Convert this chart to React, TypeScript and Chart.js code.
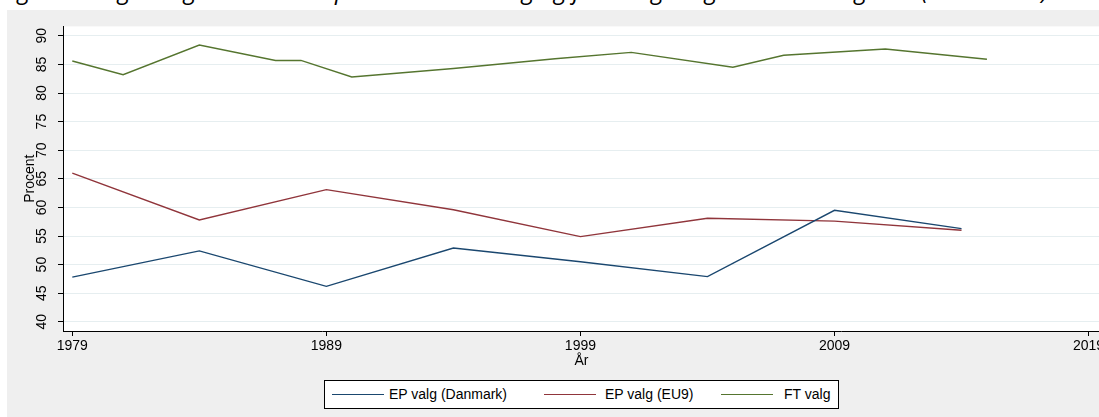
import React, { useEffect, useRef } from "react";
import { Chart, registerables } from "chart.js";

Chart.register(...registerables);

const TITLE = "Figur 1: Valgdeltagelse ved Europa-Parlamentsvalg og folketingsvalg i Danmark og EU9 (1979-2015)";
const X_TITLE = "År";
const Y_TITLE = "Procent";

const SERIES_LABELS = ["EP valg (Danmark)", "EP valg (EU9)", "FT valg"];
const SERIES_COLORS = ["#1a476f", "#90353b", "#55752f"];

const YEARS_EP = [1979, 1984, 1989, 1994, 1999, 2004, 2009, 2014];
const EP_DK = [47.8, 52.4, 46.2, 52.9, 50.5, 47.9, 59.5, 56.3];
const EP_EU9 = [66.0, 57.8, 63.1, 59.6, 54.9, 58.1, 57.6, 56.0];

const YEARS_FT = [1979, 1981, 1984, 1987, 1988, 1990, 1994, 1998, 2001, 2005, 2007, 2011, 2015];
const FT = [85.6, 83.2, 88.4, 85.7, 85.7, 82.8, 84.3, 86.0, 87.1, 84.5, 86.6, 87.7, 85.9];

const X_TICKS = [1979, 1989, 1999, 2009, 2019];
const Y_TICKS = [40, 45, 50, 55, 60, 65, 70, 75, 80, 85, 90];

const FONT = "'Liberation Sans', Arial, sans-serif";

const plotBg = {
  id: "plotBg",
  beforeDraw(chart: any) {
    const { ctx, chartArea } = chart;
    ctx.save();
    ctx.fillStyle = "#ffffff";
    ctx.fillRect(chartArea.left, chartArea.top, chartArea.right - chartArea.left, chartArea.bottom - chartArea.top);
    ctx.restore();
  },
};

function pts(xs: number[], ys: number[]) {
  return xs.map((x, i) => ({ x, y: ys[i] }));
}

export default function App() {
  const ref = useRef<HTMLCanvasElement | null>(null);

  useEffect(() => {
    if (!ref.current) return;
    const data = [pts(YEARS_EP, EP_DK), pts(YEARS_EP, EP_EU9), pts(YEARS_FT, FT)];
    const chart = new Chart(ref.current, {
      type: "line",
      data: {
        datasets: data.map((d, i) => ({
          label: SERIES_LABELS[i],
          data: d,
          borderColor: SERIES_COLORS[i],
          backgroundColor: SERIES_COLORS[i],
          borderWidth: 1.4,
          pointRadius: 0,
          tension: 0,
          fill: false,
        })),
      },
      options: {
        animation: false,
        responsive: false,
        devicePixelRatio: 1,
        layout: { padding: { top: 14, right: 47, bottom: 47, left: 0 } },
        plugins: { legend: { display: false }, tooltip: { enabled: false } },
        scales: {
          x: {
            type: "linear",
            min: 1978.634,
            max: 2019.45,
            afterBuildTicks: (s: any) => {
              s.ticks = X_TICKS.map((v) => ({ value: v }));
            },
            afterFit: (s: any) => {
              s.height = 39;
            },
            grid: { drawOnChartArea: false, drawTicks: true, tickLength: 5, tickColor: "#000", lineWidth: 1 },
            border: { display: true, color: "#000", width: 1 },
            ticks: {
              autoSkip: false,
              maxRotation: 0,
              minRotation: 0,
              padding: 2,
              color: "#000",
              font: { family: FONT, size: 14 },
              callback: (v: any) => String(v),
            },
            title: { display: true, text: X_TITLE, color: "#000", font: { family: FONT, size: 14 }, padding: 0 },
          },
          y: {
            type: "linear",
            min: 38.39,
            max: 91.65,
            afterBuildTicks: (s: any) => {
              s.ticks = Y_TICKS.map((v) => ({ value: v }));
            },
            afterFit: (s: any) => {
              s.width = 56;
            },
            grid: { drawOnChartArea: true, color: "#e6eef0", lineWidth: 1, drawTicks: true, tickLength: 5, tickColor: "#000" },
            border: { display: true, color: "#000", width: 1 },
            ticks: {
              autoSkip: false,
              minRotation: 90,
              maxRotation: 90,
              crossAlign: "center",
              padding: 8,
              color: "#000",
              font: { family: FONT, size: 14 },
              callback: (v: any) => String(v),
            },
            title: { display: true, text: Y_TITLE, color: "#000", font: { family: FONT, size: 14 }, padding: { top: 14.6, bottom: 0 } },
          },
        },
      },
      plugins: [plotBg],
    } as any);
    return () => chart.destroy();
  }, []);

  return (
    <div style={{ position: "absolute", left: 0, top: 0, width: 1099, height: 417, overflow: "hidden", background: "#fff" }}>
      <div style={{ position: "absolute", left: 0, top: 0, width: 1099, height: 10, overflow: "hidden" }}>
        <div
          style={{
            position: "absolute",
            left: 0,
            top: -22,
            whiteSpace: "nowrap",
            fontFamily: "'Open Sans', sans-serif",
            fontStyle: "italic",
            fontSize: 24,
            lineHeight: "24px",
            color: "#000",
          }}
        >
          {TITLE}
        </div>
      </div>
      <div style={{ position: "absolute", left: 7, top: 10, width: 1092, height: 407, overflow: "hidden", background: "#efefef" }}>
        <canvas ref={ref} width={1140} height={407} style={{ width: 1140, height: 407, display: "block" }} />
      </div>
      <div
        style={{
          position: "absolute",
          left: 324,
          top: 380,
          width: 515,
          height: 29,
          boxSizing: "border-box",
          border: "1px solid #000",
          background: "#fff",
          fontFamily: FONT,
          fontSize: 14,
          color: "#000",
        }}
      >
        {SERIES_LABELS.map((lab, i) => {
          const keyLeft = [7, 219, 396][i];
          const textLeft = [64, 280, 459][i];
          return (
            <React.Fragment key={lab}>
              <div style={{ position: "absolute", left: keyLeft, top: 13, width: 52, height: 0, borderTop: `1.4px solid ${SERIES_COLORS[i]}` }} />
              <div style={{ position: "absolute", left: textLeft, top: 5, lineHeight: "16px", whiteSpace: "nowrap" }}>{lab}</div>
            </React.Fragment>
          );
        })}
      </div>
    </div>
  );
}
